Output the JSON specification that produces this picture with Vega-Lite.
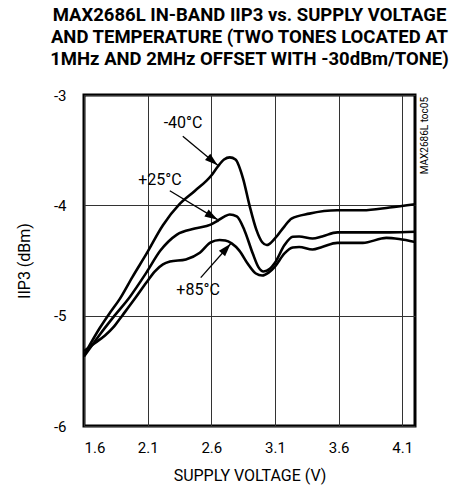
{
  "$schema": "https://vega.github.io/schema/vega-lite/v6.json",
  "width": 331,
  "height": 331,
  "autosize": "none",
  "padding": {"left": 84, "top": 95, "right": 34, "bottom": 63},
  "background": "white",
  "config": {
    "view": {"stroke": "black", "strokeWidth": 3},
    "font": "Roboto",
    "axis": {"labelColor": "black", "titleColor": "black", "labelFont": "Roboto", "titleFont": "Roboto"}
  },
  "title": {
    "text": ["MAX2686L IN-BAND IIP3 vs. SUPPLY VOLTAGE", "AND TEMPERATURE (TWO TONES LOCATED AT", "1MHz AND 2MHz OFFSET WITH -30dBm/TONE)"],
    "font": "Roboto",
    "fontSize": 18.5,
    "fontWeight": "bold",
    "lineHeight": 22,
    "anchor": "middle",
    "offset": 20,
    "color": "black"
  },
  "datasets": {
    "curves": [
      {"temp": "-40°C", "v": 1.60, "iip3": -5.36},
      {"temp": "-40°C", "v": 1.725, "iip3": -5.11},
      {"temp": "-40°C", "v": 1.80, "iip3": -4.98},
      {"temp": "-40°C", "v": 1.88, "iip3": -4.85},
      {"temp": "-40°C", "v": 1.98, "iip3": -4.65},
      {"temp": "-40°C", "v": 2.09, "iip3": -4.44},
      {"temp": "-40°C", "v": 2.22, "iip3": -4.18},
      {"temp": "-40°C", "v": 2.35, "iip3": -3.99},
      {"temp": "-40°C", "v": 2.47, "iip3": -3.87},
      {"temp": "-40°C", "v": 2.60, "iip3": -3.73},
      {"temp": "-40°C", "v": 2.65, "iip3": -3.65},
      {"temp": "-40°C", "v": 2.70, "iip3": -3.585},
      {"temp": "-40°C", "v": 2.745, "iip3": -3.565},
      {"temp": "-40°C", "v": 2.79, "iip3": -3.585},
      {"temp": "-40°C", "v": 2.85, "iip3": -3.76},
      {"temp": "-40°C", "v": 2.90, "iip3": -4.0},
      {"temp": "-40°C", "v": 2.955, "iip3": -4.225},
      {"temp": "-40°C", "v": 3.00, "iip3": -4.335},
      {"temp": "-40°C", "v": 3.035, "iip3": -4.36},
      {"temp": "-40°C", "v": 3.10, "iip3": -4.30},
      {"temp": "-40°C", "v": 3.175, "iip3": -4.19},
      {"temp": "-40°C", "v": 3.23, "iip3": -4.12},
      {"temp": "-40°C", "v": 3.37, "iip3": -4.075},
      {"temp": "-40°C", "v": 3.59, "iip3": -4.045},
      {"temp": "-40°C", "v": 3.79, "iip3": -4.045},
      {"temp": "-40°C", "v": 4.00, "iip3": -4.02},
      {"temp": "-40°C", "v": 4.20, "iip3": -3.99},
      {"temp": "+25°C", "v": 1.60, "iip3": -5.37},
      {"temp": "+25°C", "v": 1.725, "iip3": -5.17},
      {"temp": "+25°C", "v": 1.84, "iip3": -5.0},
      {"temp": "+25°C", "v": 1.96, "iip3": -4.83},
      {"temp": "+25°C", "v": 2.09, "iip3": -4.61},
      {"temp": "+25°C", "v": 2.20, "iip3": -4.41},
      {"temp": "+25°C", "v": 2.33, "iip3": -4.265},
      {"temp": "+25°C", "v": 2.47, "iip3": -4.21},
      {"temp": "+25°C", "v": 2.595, "iip3": -4.175},
      {"temp": "+25°C", "v": 2.65, "iip3": -4.14},
      {"temp": "+25°C", "v": 2.705, "iip3": -4.10},
      {"temp": "+25°C", "v": 2.745, "iip3": -4.083},
      {"temp": "+25°C", "v": 2.80, "iip3": -4.10},
      {"temp": "+25°C", "v": 2.86, "iip3": -4.225},
      {"temp": "+25°C", "v": 2.925, "iip3": -4.435},
      {"temp": "+25°C", "v": 2.97, "iip3": -4.56},
      {"temp": "+25°C", "v": 3.01, "iip3": -4.60},
      {"temp": "+25°C", "v": 3.06, "iip3": -4.575},
      {"temp": "+25°C", "v": 3.10, "iip3": -4.52},
      {"temp": "+25°C", "v": 3.175, "iip3": -4.36},
      {"temp": "+25°C", "v": 3.24, "iip3": -4.285},
      {"temp": "+25°C", "v": 3.29, "iip3": -4.282},
      {"temp": "+25°C", "v": 3.395, "iip3": -4.30},
      {"temp": "+25°C", "v": 3.47, "iip3": -4.282},
      {"temp": "+25°C", "v": 3.59, "iip3": -4.245},
      {"temp": "+25°C", "v": 3.79, "iip3": -4.245},
      {"temp": "+25°C", "v": 4.00, "iip3": -4.245},
      {"temp": "+25°C", "v": 4.20, "iip3": -4.24},
      {"temp": "+85°C", "v": 1.60, "iip3": -5.32},
      {"temp": "+85°C", "v": 1.69, "iip3": -5.245},
      {"temp": "+85°C", "v": 1.765, "iip3": -5.18},
      {"temp": "+85°C", "v": 1.835, "iip3": -5.10},
      {"temp": "+85°C", "v": 1.90, "iip3": -5.0},
      {"temp": "+85°C", "v": 2.00, "iip3": -4.845},
      {"temp": "+85°C", "v": 2.09, "iip3": -4.70},
      {"temp": "+85°C", "v": 2.155, "iip3": -4.60},
      {"temp": "+85°C", "v": 2.22, "iip3": -4.535},
      {"temp": "+85°C", "v": 2.275, "iip3": -4.51},
      {"temp": "+85°C", "v": 2.40, "iip3": -4.49},
      {"temp": "+85°C", "v": 2.51, "iip3": -4.43},
      {"temp": "+85°C", "v": 2.595, "iip3": -4.336},
      {"temp": "+85°C", "v": 2.665, "iip3": -4.314},
      {"temp": "+85°C", "v": 2.71, "iip3": -4.318},
      {"temp": "+85°C", "v": 2.76, "iip3": -4.345},
      {"temp": "+85°C", "v": 2.82, "iip3": -4.41},
      {"temp": "+85°C", "v": 2.885, "iip3": -4.527},
      {"temp": "+85°C", "v": 2.95, "iip3": -4.618},
      {"temp": "+85°C", "v": 3.00, "iip3": -4.636},
      {"temp": "+85°C", "v": 3.05, "iip3": -4.61},
      {"temp": "+85°C", "v": 3.10, "iip3": -4.555},
      {"temp": "+85°C", "v": 3.175, "iip3": -4.436},
      {"temp": "+85°C", "v": 3.24, "iip3": -4.382},
      {"temp": "+85°C", "v": 3.29, "iip3": -4.377},
      {"temp": "+85°C", "v": 3.395, "iip3": -4.40},
      {"temp": "+85°C", "v": 3.47, "iip3": -4.377},
      {"temp": "+85°C", "v": 3.59, "iip3": -4.34},
      {"temp": "+85°C", "v": 3.79, "iip3": -4.34},
      {"temp": "+85°C", "v": 3.975, "iip3": -4.295},
      {"temp": "+85°C", "v": 4.075, "iip3": -4.305},
      {"temp": "+85°C", "v": 4.20, "iip3": -4.332}
    ],
    "notes": [
      {"label": "-40°C", "lx": 2.378, "ly": -3.25, "x1": 2.376, "y1": -3.373, "x2": 2.650, "y2": -3.636},
      {"label": "+25°C", "lx": 2.196, "ly": -3.773, "x1": 2.274, "y1": -3.868, "x2": 2.650, "y2": -4.13},
      {"label": "+85°C", "lx": 2.496, "ly": -4.764, "x1": 2.517, "y1": -4.655, "x2": 2.752, "y2": -4.348}
    ]
  },
  "layer": [
    {
      "data": {"name": "curves"},
      "mark": {"type": "line", "color": "black", "strokeWidth": 2.6, "interpolate": "monotone"},
      "encoding": {
        "x": {
          "field": "v", "type": "quantitative",
          "scale": {"domain": [1.6, 4.2], "nice": false, "zero": false},
          "axis": {
            "values": [1.6, 2.1, 2.6, 3.1, 3.6, 4.1],
            "labelExpr": "format(datum.value, '.1f')",
            "grid": true, "gridColor": "#333", "gridWidth": 1, "gridOpacity": 1,
            "ticks": false, "domain": false,
            "labelFontSize": 15, "labelPadding": 14,
            "title": "SUPPLY VOLTAGE (V)", "titleFontSize": 16, "titleFontWeight": "normal", "titlePadding": 12
          }
        },
        "y": {
          "field": "iip3", "type": "quantitative",
          "scale": {"domain": [-6, -3], "nice": false, "zero": false},
          "axis": {
            "values": [-6, -5, -4, -3],
            "labelExpr": "toString(datum.value)",
            "grid": true, "gridColor": "#333", "gridWidth": 1, "gridOpacity": 1,
            "ticks": false, "domain": false,
            "labelFontSize": 15, "labelPadding": 18,
            "title": "IIP3 (dBm)", "titleFontSize": 16, "titleFontWeight": "normal", "titlePadding": 21
          }
        },
        "detail": {"field": "temp", "type": "nominal"}
      }
    },
    {
      "data": {"name": "notes"},
      "mark": {"type": "rule", "color": "black", "strokeWidth": 1.3},
      "encoding": {
        "x": {"field": "x1", "type": "quantitative"},
        "y": {"field": "y1", "type": "quantitative"},
        "x2": {"field": "x2"},
        "y2": {"field": "y2"}
      }
    },
    {
      "data": {"name": "notes"},
      "mark": {"type": "point", "shape": "M0,0L0.7,2.2L-0.7,2.2Z", "filled": true, "color": "black", "opacity": 1, "size": 140},
      "encoding": {
        "x": {"field": "x2", "type": "quantitative"},
        "y": {"field": "y2", "type": "quantitative"},
        "angle": {"field": "label", "type": "nominal", "scale": {"type": "ordinal", "domain": ["-40°C", "+25°C", "+85°C"], "range": [129.6, 120.8, 41.7]}, "legend": null}
      }
    },
    {
      "data": {"name": "notes"},
      "mark": {"type": "text", "fontSize": 16, "color": "black", "align": "center", "baseline": "middle"},
      "encoding": {
        "x": {"field": "lx", "type": "quantitative"},
        "y": {"field": "ly", "type": "quantitative"},
        "text": {"field": "label"}
      }
    },
    {
      "data": {"values": [{"tag": "MAX2686L toc05"}]},
      "mark": {"type": "text", "fontSize": 10, "color": "black", "angle": 270, "align": "right", "baseline": "middle", "dx": -2, "dy": 10},
      "encoding": {
        "x": {"datum": 4.2},
        "y": {"datum": -3},
        "text": {"field": "tag"}
      }
    }
  ]
}
